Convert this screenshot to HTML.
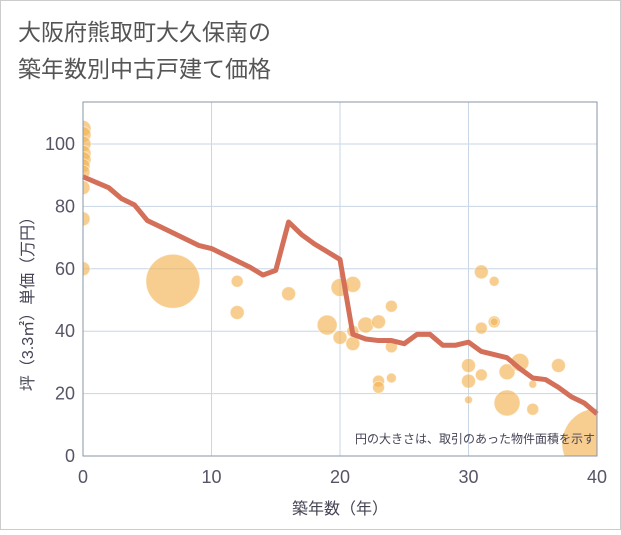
<!DOCTYPE html>
<html><head><meta charset="utf-8"><style>
body{margin:0;background:#fff;}
svg text{font-family:"Liberation Sans","Noto Sans CJK JP",sans-serif;}
</style></head><body>
<svg id="c" width="621" height="530" xmlns="http://www.w3.org/2000/svg">
<defs><clipPath id="pc"><rect x="83" y="102" width="514" height="354"/></clipPath></defs>
<rect x="0.5" y="0.5" width="620" height="529" fill="#fff" stroke="#ccc"/>
<text x="18" y="40" font-size="23" fill="#555">大阪府熊取町大久保南の</text>
<text x="18" y="77" font-size="23" fill="#555">築年数別中古戸建て価格</text>
<g id="grid"></g>
<g id="bubbles" clip-path="url(#pc)"></g>
<g id="line"></g>
<g id="axes"></g>
<text x="595" y="443" font-size="12" fill="#445" text-anchor="end">円の大きさは、取引のあった物件面積を示す</text>
<text x="340" y="514" font-size="16" fill="#445" text-anchor="middle">築年数（年）</text>
<text transform="translate(33,300) rotate(-90)" font-size="16" fill="#445" text-anchor="middle">坪（3.3㎡）単価（万円）</text>
</svg>
<script>
const xTicks=[0,10,20,30,40];
const yTicks=[0,20,40,60,80,100];
const lineYears=[0,2,3,4,5,6,7,8,9,10,11,12,13,14,15,16,17,18,19,20,21,22,23,24,25,26,27,28,29,30,31,32,33,34,35,36,37,38,39,40];
const lineValues=[89.5,86,82.5,80.5,75.5,73.5,71.5,69.5,67.5,66.5,64.5,62.5,60.5,58,59.5,75,71,68,65.5,63,39,37.5,37,37,36,39,39,35.5,35.5,36.5,33.5,32.5,31.5,28,25,24.5,22,19,17,13.5];
const bubX=[0,0,0,0,0,0,0,0,0,0,7,12,12,16,19,20,20,21,21,21,22,23,23,23,24,24,24,30,30,30,31,31,31,32,32,32,33,33,34,35,35,37,40];
const bubY=[105,103,100,97,95,93,91,86,76,60,56,56,46,52,42,38,54,55,36,40,42,43,24,22,48,35,25,29,24,18,59,41,26,56,43,43,27,17,30,23,15,29,4];
const bubR=[8,8,8,8,8,7,7,7,7,7,27,6,7,7,10,7,9,8,7,6,8,7,6,6,6,6,5,7,7,4,7,6,6,5,6,4,8,13,9,4,6,7,35];
const X0=83,X1=597,Y0=456,YT=102;
const sx=v=>X0+(X1-X0)*v/40, sy=v=>Y0-v*3.12;
const NS="http://www.w3.org/2000/svg";
function mk(t,a,p){const e=document.createElementNS(NS,t);for(const k in a)e.setAttribute(k,a[k]);p.appendChild(e);return e;}
const g=document.getElementById('grid');
xTicks.forEach(v=>{const l=mk('line',{x1:sx(v),x2:sx(v),y1:YT,y2:Y0,stroke:'#c8d6e5'},g);

});
yTicks.forEach(v=>{const l=mk('line',{x1:X0,x2:X1,y1:sy(v),y2:sy(v),stroke:'#c8d6e5'},g);

});
const b=document.getElementById('bubbles');
bubX.forEach((v,i)=>{const c=mk('circle',{cx:sx(v),cy:sy(bubY[i]),r:bubR[i],fill:'#f2b355','fill-opacity':0.65,stroke:'#fff','stroke-opacity':0.5},b);

});
const ln=document.getElementById('line');
const p=mk('polyline',{points:lineYears.map((v,i)=>sx(v)+','+sy(lineValues[i])).join(' '),fill:'none',stroke:'#d4705a',"stroke-width":5,"stroke-linejoin":"round"},ln);


const a=document.getElementById('axes');
const fr=mk('rect',{x:X0,y:YT,width:X1-X0,height:Y0-YT,fill:'none',stroke:'#8a96a3'},a);


xTicks.forEach(v=>{const t=mk('text',{x:sx(v),y:483,'font-size':18,fill:'#556','text-anchor':'middle'},a);t.textContent=v;

});
yTicks.forEach(v=>{const t=mk('text',{x:75,y:sy(v)+6,'font-size':18,fill:'#556','text-anchor':'end'},a);t.textContent=v;

});
</script>
</body></html>
